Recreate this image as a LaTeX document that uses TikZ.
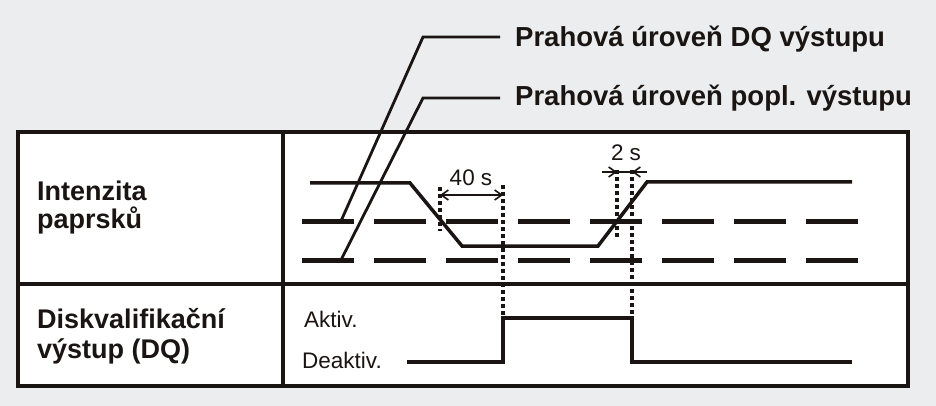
\documentclass[tikz,border=0pt]{standalone}
\usepackage{fontspec}
\setmainfont{Liberation Sans}
\usetikzlibrary{arrows.meta}
\definecolor{bg}{HTML}{EBEDEE}
\definecolor{ink}{HTML}{1A1512}
\begin{document}
\begin{tikzpicture}[x=1pt,y=-1pt,line join=miter,
  frame/.style={draw=ink, line width=4pt},
  sig/.style={draw=ink, line width=3.5pt},
  thr/.style={draw=ink, line width=5pt, dash pattern=on 52pt off 20pt},
  dots/.style={draw=ink, line width=3.5pt, dash pattern=on 4pt off 3pt},
  leader/.style={draw=ink, line width=2.8pt},
  dim/.style={draw=ink, line width=1.6pt},
  tip/.style={-{Straight Barb[length=7pt,width=10pt,line width=1.6pt]}},
  lbl/.style={font=\fontsize{27.5}{28}\selectfont\bfseries, inner sep=0pt, text=ink},
  rowlbl/.style={font=\fontsize{27}{28}\selectfont\bfseries, inner sep=0pt, text=ink},
  small/.style={font=\fontsize{22.5}{24}\selectfont, inner sep=0pt, text=ink}]
\fill[bg] (0,0) rectangle (936,406);
\useasboundingbox (0,0) rectangle (936,406);
% table
\fill[white] (18,132) rectangle (908,386);
\draw[frame] (18,132) rectangle (908,386);
\draw[frame] (18,284) -- (908,284);
\draw[frame] (283,132) -- (283,386);
% row labels
\node[rowlbl, anchor=base west, align=left] (int) at (37,228) {Intenzita\\paprsků};
\node[rowlbl, anchor=base west, align=left] (dq) at (37,358) {Diskvalifikační\\[2pt]výstup (DQ)};
% threshold lines
\coordinate (t1s) at (302,221); \coordinate (t1e) at (858,221);
\coordinate (t2s) at (302,260); \coordinate (t2e) at (858,260);
\draw[thr] (t1s) -- (t1e);
\draw[thr] (t2s) -- (t2e);
% beam intensity
\coordinate (b0) at (310,183); \coordinate (b1) at (410,183);
\coordinate (b2) at (462,246); \coordinate (b3) at (598,246);
\coordinate (b4) at (647,182); \coordinate (b5) at (852,182);
\draw[sig] (b0) -- (b1) -- (b2) -- (b3) -- (b4) -- (b5);
% leaders and labels
\node[lbl, anchor=base west] (lab1) at (515,47) {Prahová úroveň DQ výstupu};
\node[lbl, anchor=base west] (lab2) at (515,106) {Prahová úroveň popl. výstupu};
\coordinate (l1a) at (341,221); \coordinate (l1b) at (423,37); \coordinate (l1c) at (500,37);
\coordinate (l2a) at (341,260); \coordinate (l2b) at (423,98); \coordinate (l2c) at (500,98);
\draw[leader] (l1a) -- (l1b) -- (l1c);
\draw[leader] (l2a) -- (l2b) -- (l2c);
% DQ output
\coordinate (d0) at (407,362); \coordinate (d1) at (503,362);
\coordinate (d2) at (503,318); \coordinate (d3) at (632,318);
\coordinate (d4) at (632,362); \coordinate (d5) at (852,362);
\draw[sig] (d0) -- (d1) -- (d2) -- (d3) -- (d4) -- (d5);
\node[small, anchor=base west] (akt) at (304,327) {Aktiv.};
\node[small, anchor=base west] (deakt) at (302,368) {Deaktiv.};
% dotted markers
\coordinate (v1t) at (440,187); \coordinate (v1b) at (440,231);
\coordinate (v2t) at (503,185); \coordinate (v2b) at (503,318);
\coordinate (v3t) at (617,170); \coordinate (v3b) at (617,238);
\coordinate (v4t) at (632,170); \coordinate (v4b) at (632,318);
\draw[dots] (v1t) -- (v1b);
\draw[dots] (v2t) -- (v2b);
\draw[dots] (v3t) -- (v3b);
\draw[dots] (v4t) -- (v4b);
% 40 s
\coordinate (a1) at (440,195); \coordinate (a2) at (503,195);
\draw[dim, {Straight Barb[length=7pt,width=10pt,line width=1.6pt]}-{Straight Barb[length=7pt,width=10pt,line width=1.6pt]}] (a1) -- (a2);
\node[small] (t40) at (471,178) {40 s};
% 2 s
\coordinate (c0) at (602,172); \coordinate (c1) at (617,172);
\coordinate (c2) at (632,172); \coordinate (c3) at (647,172);
\draw[dim, tip] (c0) -- (c1);
\draw[dim, tip] (c3) -- (c2);
\draw[dim] (c1) -- (c2);
\node[small] (t2) at (626,153) {2 s};
\end{tikzpicture}
\end{document}
